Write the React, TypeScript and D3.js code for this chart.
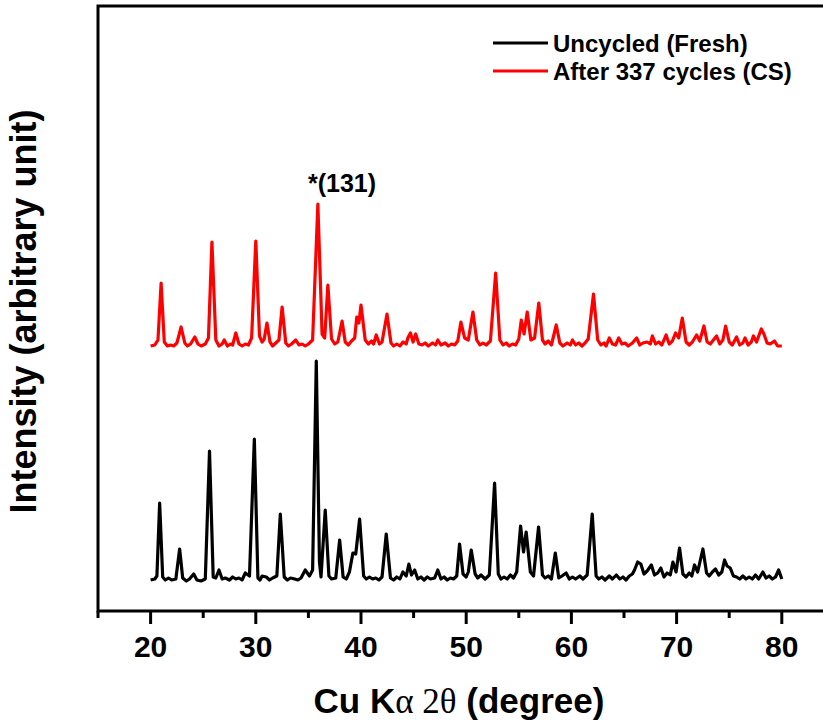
import React from 'react';
import * as d3 from 'd3';

// [2θ (degree), intensity above the pattern's own baseline]
const freshPattern = [[20.0,2],[20.4,3],[20.6,6],[20.86,79],[21.15,5],[21.4,2],[21.7,4],[22.0,2],[22.4,3],[22.76,33],[23.05,4],[23.4,1],[23.7,3],[24.1,8],[24.4,2],[24.8,1],[25.2,3],[25.6,131],[25.95,5],[26.2,4],[26.5,12],[26.8,3],[27.1,4],[27.5,2],[27.8,5],[28.1,3],[28.4,4],[28.7,2],[29.0,9],[29.4,6],[29.86,143],[30.2,4],[30.4,2],[30.6,6],[31.0,5],[31.3,2],[31.6,4],[32.0,6],[32.33,68],[32.7,5],[33.0,2],[33.3,4],[33.7,3],[34.0,2],[34.3,4],[34.7,12],[35.1,6],[35.4,12],[35.75,221],[36.05,20],[36.2,5],[36.6,72],[36.95,6],[37.2,3],[37.6,4],[37.97,42],[38.3,5],[38.6,3],[38.9,10],[39.23,29],[39.5,28],[39.87,63],[40.25,6],[40.5,3],[40.8,5],[41.1,3],[41.4,4],[41.7,2],[42.0,5],[42.4,48],[42.8,4],[43.1,2],[43.4,5],[43.7,3],[43.98,10],[44.3,6],[44.55,18],[44.8,7],[45.1,12],[45.4,3],[45.7,5],[46.0,2],[46.3,5],[46.6,3],[47.0,4],[47.3,12],[47.6,3],[47.9,5],[48.2,2],[48.5,4],[48.8,3],[49.1,6],[49.37,38],[49.7,8],[50.0,5],[50.2,10],[50.48,32],[50.85,8],[51.1,4],[51.4,7],[51.8,3],[52.2,7],[52.7,99],[53.05,8],[53.3,3],[53.6,5],[53.9,3],[54.2,7],[54.5,4],[54.8,10],[55.17,56],[55.45,30],[55.7,50],[56.1,10],[56.4,6],[56.88,55],[57.25,7],[57.5,4],[57.8,6],[58.1,3],[58.47,29],[58.8,4],[59.1,6],[59.5,9],[59.8,3],[60.1,5],[60.4,3],[60.8,6],[61.1,3],[61.5,7],[61.98,68],[62.35,6],[62.6,3],[62.9,5],[63.2,2],[63.6,6],[63.9,3],[64.27,7],[64.6,3],[64.9,5],[65.2,2],[65.5,6],[65.8,8],[66.0,12],[66.3,20],[66.6,18],[66.9,8],[67.2,11],[67.6,17],[67.9,7],[68.2,9],[68.5,14],[68.8,5],[69.1,9],[69.4,7],[69.65,20],[69.95,10],[70.28,34],[70.6,8],[70.9,5],[71.2,9],[71.45,6],[71.7,17],[72.0,10],[72.5,33],[72.85,9],[73.1,6],[73.4,10],[73.7,13],[74.0,7],[74.3,10],[74.56,22],[74.8,16],[75.1,14],[75.4,6],[75.7,5],[76.0,3],[76.3,6],[76.6,3],[76.9,5],[77.2,3],[77.5,7],[77.8,3],[78.2,10],[78.5,4],[78.8,6],[79.1,3],[79.4,5],[79.7,12],[80.0,3]];

const cycledPattern = [[20.0,2],[20.4,3],[20.7,8],[21.0,65],[21.3,6],[21.6,2],[21.9,3],[22.2,2],[22.5,5],[22.9,21],[23.25,5],[23.5,2],[23.8,4],[24.2,11],[24.5,4],[24.8,2],[25.2,4],[25.5,10],[25.83,106],[26.2,8],[26.5,2],[26.8,4],[27.0,8],[27.3,2],[27.6,4],[27.8,3],[28.1,15],[28.4,4],[28.7,2],[29.0,4],[29.3,3],[29.6,10],[30.0,107],[30.35,12],[30.6,6],[30.8,9],[31.06,25],[31.35,6],[31.6,2],[31.9,5],[32.2,8],[32.5,41],[32.85,5],[33.1,2],[33.4,4],[33.8,8],[34.1,3],[34.4,4],[34.7,2],[35.0,4],[35.4,8],[35.9,144],[36.3,14],[36.55,10],[36.85,63],[37.2,9],[37.5,4],[37.8,6],[38.2,27],[38.5,6],[38.8,3],[39.1,7],[39.4,10],[39.6,31],[39.8,25],[40.0,43],[40.4,8],[40.7,4],[41.0,7],[41.2,4],[41.45,13],[41.75,4],[42.0,6],[42.47,34],[42.85,5],[43.1,2],[43.4,4],[43.7,2],[44.0,6],[44.3,4],[44.45,10],[44.7,15],[44.95,6],[45.2,14],[45.5,4],[45.8,3],[46.1,5],[46.4,2],[46.8,5],[47.1,3],[47.3,8],[47.6,3],[48.0,5],[48.3,2],[48.6,4],[48.9,3],[49.2,7],[49.5,26],[49.85,10],[50.2,8],[50.64,36],[51.0,8],[51.3,3],[51.6,5],[51.9,3],[52.3,7],[52.8,75],[53.2,8],[53.5,3],[53.8,5],[54.1,2],[54.4,4],[54.7,3],[55.0,9],[55.24,28],[55.5,14],[55.8,36],[56.15,8],[56.5,10],[56.9,45],[57.25,8],[57.5,4],[57.8,7],[58.1,3],[58.56,23],[58.9,5],[59.2,2],[59.6,5],[59.9,3],[60.1,8],[60.4,3],[60.7,5],[61.0,2],[61.3,5],[61.6,9],[62.1,54],[62.5,8],[62.8,3],[63.1,5],[63.3,2],[63.6,10],[63.9,4],[64.2,3],[64.5,10],[64.8,4],[65.1,5],[65.4,2],[65.8,5],[66.2,10],[66.5,3],[66.8,5],[67.2,6],[67.5,4],[67.7,12],[68.0,4],[68.3,6],[68.6,3],[69.0,13],[69.3,4],[69.6,7],[69.9,15],[70.2,10],[70.54,30],[70.9,6],[71.2,3],[71.5,6],[71.9,13],[72.2,7],[72.6,22],[72.9,6],[73.2,4],[73.5,8],[73.8,12],[74.1,4],[74.4,8],[74.66,22],[75.0,6],[75.3,3],[75.7,11],[76.0,3],[76.3,5],[76.5,10],[76.8,3],[77.1,6],[77.3,12],[77.6,6],[78.05,19],[78.3,14],[78.6,5],[78.9,4],[79.3,7],[79.6,2],[80.0,2]];

const seriesNames = ['Uncycled (Fresh)', 'After 337 cycles (CS)'];
const seriesColors = ['#000000', '#ff0000'];
const seriesOffsets = [29, 263]; // vertical stacking of the two patterns
const majorTicks = [20, 30, 40, 50, 60, 70, 80];
const minorTicks = [15, 25, 35, 45, 55, 65, 75, 85];

const W = 823;
const H = 725;
const m = { left: 98, top: 6, bottom: 611 };
const FONT = '"Liberation Sans", Arial, sans-serif';

export default function App() {
  const x = d3.scaleLinear().domain([15, 85]).range([m.left, m.left + 70 * 10.52]);
  const y = d3.scaleLinear().domain([0, 605]).range([m.bottom, m.top]);

  const series = [freshPattern, cycledPattern].map((p, i) =>
    p.map(([t, v]) => [t, v + seriesOffsets[i]]));
  const line = d3.line<number[]>().x(d => x(d[0])).y(d => y(d[1]));

  return (
    <div style={{ position: 'absolute', left: 0, top: 0 }}>
      <svg width={W} height={H} style={{ display: 'block', background: '#fff' }}>
        <defs>
          <clipPath id="plot">
            <rect x={m.left} y={m.top} width={W - m.left} height={m.bottom - m.top} />
          </clipPath>
        </defs>

        {series.map((s, i) => (
          <path key={i} d={line(s) || ''} fill="none" stroke={seriesColors[i]}
            strokeWidth={3.2} strokeLinejoin="round" clipPath="url(#plot)" />
        ))}

        {/* frame, right side runs off the picture */}
        <path d={`M${x(85)},${m.top}H${m.left}V${m.bottom}H${x(85)}`} fill="none" stroke="#000" strokeWidth={3} />

        {minorTicks.map(t => (
          <line key={'m' + t} x1={x(t)} x2={x(t)} y1={m.bottom} y2={m.bottom + 7} stroke="#000" strokeWidth={3} />
        ))}
        {majorTicks.map(t => (
          <g key={t}>
            <line x1={x(t)} x2={x(t)} y1={m.bottom} y2={m.bottom + 13} stroke="#000" strokeWidth={3} />
            <text x={x(t)} y={657} textAnchor="middle" fontFamily={FONT} fontWeight="bold" fontSize={30}>{t}</text>
          </g>
        ))}

        <text x={459} y={713} textAnchor="middle" fontFamily={FONT} fontWeight="bold" fontSize={35}>
          Cu K<tspan fontFamily='"Liberation Serif", "Times New Roman", serif' fontWeight="normal">α 2θ</tspan> (degree)
        </text>
        <text transform={`translate(36,${(m.top + m.bottom) / 2 + 3}) rotate(-90)`} textAnchor="middle"
          fontFamily={FONT} fontWeight="bold" fontSize={36}>Intensity (arbitrary unit)</text>

        <text x={342} y={192} textAnchor="middle" fontFamily={FONT} fontWeight="bold" fontSize={25}>*(131)</text>

        {seriesNames.map((n, i) => (
          <g key={n} transform={`translate(0,${43 + i * 28})`}>
            <line x1={493} x2={548} y1={0} y2={0} stroke={seriesColors[i]} strokeWidth={3} />
            <text x={553} y={8.5} fontFamily={FONT} fontWeight="bold" fontSize={24}>{n}</text>
          </g>
        ))}
      </svg>
    </div>
  );
}
